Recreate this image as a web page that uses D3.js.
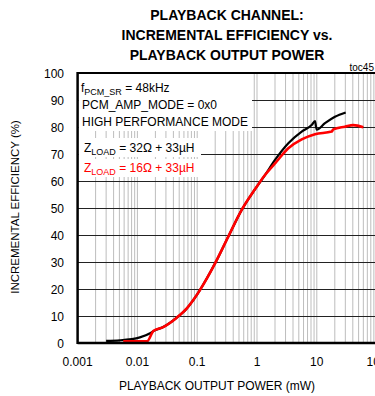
<!DOCTYPE html>
<html><head><meta charset="utf-8">
<script src="https://cdn.jsdelivr.net/npm/d3@7"></script>
<style>body{margin:0;background:#fff}svg{display:block;font-family:"Liberation Sans",Arial,sans-serif}</style>
</head><body><svg id="c" width="375" height="396"></svg>
<script>
const titleLines = ["PLAYBACK CHANNEL:", "INCREMENTAL EFFICIENCY vs.", "PLAYBACK OUTPUT POWER"];
const xTicks = [0.001, 0.01, 0.1, 1, 10, 100];
const xTickLabels = ["0.001", "0.01", "0.1", "1", "10", "100"];
const yTicks = [0,10,20,30,40,50,60,70,80,90,100];
const power32 = [0.003,0.0051,0.011,0.0163,0.0185,0.027,0.045,0.067,0.086,0.111,0.199,0.331,0.555,0.93,1.36,2.0,3.34,5.59,8.2,9.33,9.96,13.7,20.1,30.4];
const eff32   = [0.8,1.0,2.1,3.6,4.4,5.9,9.3,12.8,15.9,19.6,29.5,39.4,49.3,57,62.2,67.8,74,78.3,80.7,82.2,79.0,81.4,83.8,85.4];
const power16 = [0.0058,0.0145,0.0185,0.027,0.045,0.067,0.086,0.111,0.199,0.331,0.555,0.93,1.36,2.0,3.34,5.59,9.33,17.7,18.9,29.6,40.8,60];
const eff16   = [0.6,0.6,4.4,5.9,9.3,12.8,15.9,19.6,29.5,39.4,49.3,57,62.2,66.5,72.1,75.4,77.3,78.3,79.1,80.1,80.7,79.9];

const svg = d3.select("#c");
const L=77.6, R=L+5*59.8, T=73, B=343;
const x = d3.scaleLog().domain([0.001,100]).range([L,R]);
const y = d3.scaleLinear().domain([0,100]).range([B,T]);

// title
svg.selectAll("text.title").data(titleLines).join("text")
  .attr("x",227).attr("y",(d,i)=>20+i*20).attr("text-anchor","middle")
  .attr("font-size",14).attr("font-weight","bold").text(d=>d);

// vertical grid (minor and decade)
const vg=[];
for(let e=-3;e<2;e++) for(let m=1;m<10;m++){ if(e===-3&&m===1) continue; vg.push(m*Math.pow(10,e)); }
svg.append("g").selectAll("line").data(vg).join("line")
  .attr("x1",d=>x(d)).attr("x2",d=>x(d)).attr("y1",T).attr("y2",B)
  .attr("stroke","#bdbdbd").attr("stroke-width",1);
// horizontal grid
svg.append("g").selectAll("line").data(yTicks.filter(v=>v>0&&v<100)).join("line")
  .attr("x1",L).attr("x2",R).attr("y1",d=>Math.round(y(d))+0.5).attr("y2",d=>Math.round(y(d))+0.5)
  .attr("stroke","#222").attr("stroke-width",1);

// legend boxes (drawn before text)
const leg = svg.append("g");
leg.append("rect").attr("x",L+1).attr("y",T+1).attr("width",251-L).attr("height",57).attr("fill","#fff");
leg.append("rect").attr("x",L+1).attr("y",138).attr("width",200-L).attr("height",19).attr("fill","#fff");
leg.append("rect").attr("x",L+1).attr("y",159).attr("width",200-L).attr("height",18).attr("fill","#fff");

function subText(xp,yp,pre,sub,post,color){
  const t=svg.append("text").attr("x",xp).attr("y",yp).attr("font-size",12).attr("fill",color);
  t.append("tspan").text(pre);
  t.append("tspan").attr("font-size",9).attr("dy",3).text(sub);
  t.append("tspan").attr("dy",-3).text(post);
}
subText(81,92,"f","PCM_SR"," = 48kHz","#000");
svg.append("text").attr("x",82).attr("y",109).attr("font-size",12).text("PCM_AMP_MODE = 0x0");
svg.append("text").attr("x",82).attr("y",126).attr("font-size",12).text("HIGH PERFORMANCE MODE");
subText(84,152,"Z","LOAD"," = 32\u03A9 + 33\u00B5H","#000");
subText(84,172,"Z","LOAD"," = 16\u03A9 + 33\u00B5H","#ff0000");

// curves
const line = d3.line().x(d=>x(d[0])).y(d=>y(d[1])).curve(d3.curveMonotoneX);
svg.append("path").datum(d3.zip(power32,eff32)).attr("d",line)
  .attr("fill","none").attr("stroke","#000").attr("stroke-width",2.2);
svg.append("path").datum(d3.zip(power16,eff16)).attr("d",line)
  .attr("fill","none").attr("stroke","#ff0000").attr("stroke-width",2.6);

// frame
svg.append("line").attr("x1",L).attr("x2",R).attr("y1",T).attr("y2",T).attr("stroke","#000").attr("stroke-width",2);
svg.append("line").attr("x1",L).attr("x2",R).attr("y1",B).attr("y2",B).attr("stroke","#000").attr("stroke-width",2.5);
svg.append("line").attr("x1",L).attr("x2",L).attr("y1",T-1).attr("y2",B+1).attr("stroke","#000").attr("stroke-width",2.5);

// y tick labels
svg.append("g").selectAll("text").data(yTicks).join("text")
  .attr("x",64).attr("y",d=>y(d)+4.5).attr("text-anchor","end").attr("font-size",12).text(d=>d);
// x tick labels
svg.append("g").selectAll("text").data(xTicks).join("text")
  .attr("x",d=>x(d)).attr("y",366).attr("text-anchor","middle").attr("font-size",12)
  .text((d,i)=>xTickLabels[i]);

svg.append("text").attr("x",217).attr("y",390).attr("text-anchor","middle").attr("font-size",12)
  .text("PLAYBACK OUTPUT POWER (mW)");
svg.append("text").attr("transform","translate(19,207) rotate(-90)").attr("text-anchor","middle")
  .attr("font-size",11.5).text("INCREMENTAL EFFICIENCY (%)");
svg.append("text").attr("x",374).attr("y",71).attr("text-anchor","end").attr("font-size",10).text("toc45");
</script></body></html>
